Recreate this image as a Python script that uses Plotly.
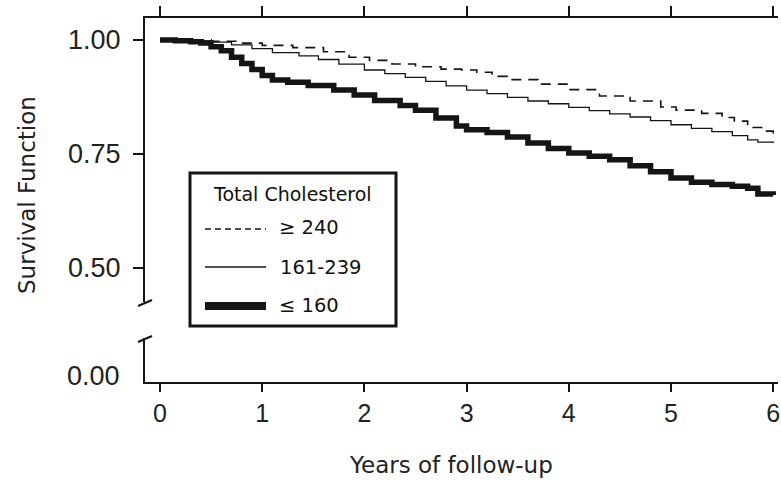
import plotly.graph_objects as go

# ---------------- data ----------------
years_hi = [0, 0.5, 0.8, 1.0, 1.3, 1.6, 1.85, 2.05, 2.27, 2.5, 2.75, 2.95, 3.1, 3.25, 3.4,
            3.7, 4.0, 4.3, 4.6, 4.9, 5.05, 5.3, 5.5, 5.62, 5.75, 5.9, 6.0]
surv_hi = [1.0, 0.997, 0.993, 0.988, 0.983, 0.974, 0.962, 0.955, 0.947, 0.941, 0.936, 0.934,
           0.929, 0.92, 0.913, 0.903, 0.891, 0.877, 0.866, 0.853, 0.846, 0.839, 0.83, 0.822,
           0.808, 0.8, 0.795]

years_mid = [0, 0.3, 0.5, 0.7, 0.9, 1.1, 1.36, 1.55, 1.75, 2.0, 2.2, 2.4, 2.6, 2.8, 3.0, 3.2,
             3.4, 3.6, 3.8, 4.0, 4.2, 4.4, 4.6, 4.8, 5.0, 5.2, 5.4, 5.6, 5.75, 5.85, 6.0]
surv_mid = [1.0, 0.998, 0.995, 0.989, 0.981, 0.972, 0.965, 0.957, 0.947, 0.934, 0.926, 0.918,
            0.909, 0.899, 0.89, 0.882, 0.874, 0.866, 0.86, 0.852, 0.845, 0.838, 0.831, 0.823,
            0.814, 0.806, 0.799, 0.79, 0.781, 0.776, 0.774]

years_lo = [0, 0.15, 0.3, 0.4, 0.5, 0.6, 0.7, 0.8, 0.9, 1.0, 1.1, 1.25, 1.45, 1.7, 1.9, 2.1,
            2.35, 2.5, 2.7, 2.9, 3.0, 3.2, 3.4, 3.6, 3.8, 4.0, 4.2, 4.4, 4.6, 4.8, 5.0, 5.2,
            5.4, 5.6, 5.75, 5.85, 6.0]
surv_lo = [1.0, 0.998, 0.996, 0.993, 0.985, 0.976, 0.962, 0.948, 0.935, 0.922, 0.912, 0.907,
           0.9, 0.89, 0.879, 0.867, 0.856, 0.846, 0.829, 0.811, 0.803, 0.797, 0.787, 0.774,
           0.762, 0.752, 0.745, 0.737, 0.724, 0.711, 0.697, 0.688, 0.683, 0.679, 0.675,
           0.662, 0.66]

series_names = ["\u2265 240", "161-239", "\u2264 160"]
legend_title = "Total Cholesterol"
x_ticks = [0, 1, 2, 3, 4, 5, 6]
y_ticks_upper = [0.5, 0.75, 1.0]
y_ticks_upper_text = ["0.50", "0.75", "1.00"]
y_ticks_lower = [0.0]
y_ticks_lower_text = ["0.00"]

# ---------------- layout helpers ----------------
W, H = 781, 482
ML, MR, MT, MB = 145, 3, 18, 100
PW, PH = W - ML - MR, H - MT - MB
INK = "#151515"
NUMFONT = "Liberation Sans"
TXTFONT = "DejaVu Sans"


def px_x(p):
    return (p - ML) / PW


def px_y(p):
    return (H - MB - p) / PH


upper_dom = [px_y(302), 1.0]
lower_dom = [0.0, px_y(338)]

fig = go.Figure()

styles = [dict(width=1.6, dash="10px,7px"), dict(width=1.3), dict(width=5.5)]
for xs, ys, name, st in zip([years_hi, years_mid, years_lo], [surv_hi, surv_mid, surv_lo],
                            series_names, styles):
    fig.add_trace(go.Scatter(x=xs, y=ys, mode="lines", name=name, line_shape="hv",
                             line=dict(color=INK, **st), xaxis="x2", yaxis="y2",
                             showlegend=False, hoverinfo="x+y+name"))

# empty trace to keep the lower (0.00) panel alive
fig.add_trace(go.Scatter(x=[None], y=[None], mode="lines", xaxis="x", yaxis="y",
                         showlegend=False, hoverinfo="skip"))

PPY = 102.2  # pixels per year
xr = [(ML - 160) / PPY, (W - MR - 160) / PPY]
ytickfont = dict(family=NUMFONT, size=27, color="#222")
xtickfont = dict(family=NUMFONT, size=25, color="#222")

fig.update_layout(
    width=W, height=H, autosize=False,
    margin=dict(l=ML, r=MR, t=MT, b=MB, autoexpand=False),
    paper_bgcolor="white", plot_bgcolor="white",
    font=dict(family=TXTFONT, color="#222"),
    xaxis=dict(domain=[0, 1], anchor="y", range=xr, tickvals=x_ticks, ticks="outside",
               ticklen=8, tickwidth=2, tickcolor=INK, showline=True, linewidth=2,
               linecolor=INK, showgrid=False, zeroline=False, tickfont=xtickfont,
               ticklabelstandoff=0, ticklabeloverflow="allow", automargin=False),
    xaxis2=dict(domain=[0, 1], anchor="y2", matches="x", range=xr, tickvals=x_ticks,
                side="top", ticks="outside", ticklen=10, tickwidth=2, tickcolor=INK,
                showticklabels=False, showline=True, linewidth=2, linecolor=INK,
                showgrid=False, zeroline=False, automargin=False),
    yaxis=dict(domain=lower_dom, anchor="x", range=[-0.013, 0.083], tickvals=y_ticks_lower,
               ticktext=y_ticks_lower_text, ticks="", showline=True, linewidth=2,
               linecolor=INK, showgrid=False, zeroline=False, tickfont=ytickfont,
               ticklabelstandoff=18, automargin=False),
    yaxis2=dict(domain=upper_dom, anchor="x2", range=[0.4254, 1.048], tickvals=y_ticks_upper,
                ticktext=y_ticks_upper_text, ticks="outside", ticklen=10, tickwidth=2,
                tickcolor=INK, showline=True, linewidth=2, linecolor=INK, showgrid=False,
                zeroline=False, tickfont=ytickfont, ticklabelstandoff=7, automargin=False),
)

shapes = []
# axis break marks
for yp in (302, 338):
    shapes.append(dict(type="line", xref="paper", yref="paper",
                       x0=px_x(138), y0=px_y(yp + 4), x1=px_x(152), y1=px_y(yp - 2),
                       line=dict(color=INK, width=2)))
# legend box
shapes.append(dict(type="rect", xref="paper", yref="paper", x0=px_x(190), x1=px_x(396),
                   y0=px_y(326), y1=px_y(173), line=dict(color=INK, width=3),
                   fillcolor="white", layer="above"))
leg_y = [229, 267, 306]
for yy, st in zip(leg_y, styles):
    ln = dict(color=INK, width=st["width"] if st["width"] < 3 else 8)
    if "dash" in st:
        ln["dash"] = "6px,4px"
    shapes.append(dict(type="line", xref="paper", yref="paper", x0=px_x(205), x1=px_x(266),
                       y0=px_y(yy), y1=px_y(yy), line=ln, layer="above"))
fig.update_layout(shapes=shapes)

ann = [
    dict(text="Survival Function", x=px_x(27), y=px_y(195), textangle=-90,
         font=dict(family=TXTFONT, size=23, color="#222")),
    dict(text="Years of follow-up", x=px_x(451), y=px_y(465),
         font=dict(family=TXTFONT, size=23, color="#222")),
    dict(text=legend_title, x=px_x(292), y=px_y(194),
         font=dict(family=TXTFONT, size=19, color="#111")),
]
for yy, nm, xo in zip([228, 267, 305], series_names, [277, 278, 277]):
    ann.append(dict(text=nm, x=px_x(xo), y=px_y(yy), xanchor="left",
                    font=dict(family=TXTFONT, size=19.5, color="#111")))
for a in ann:
    a.update(xref="paper", yref="paper", showarrow=False)
    a.setdefault("xanchor", "center")
    a.setdefault("yanchor", "middle")
fig.update_layout(annotations=ann)

fig.write_html("out.html")
